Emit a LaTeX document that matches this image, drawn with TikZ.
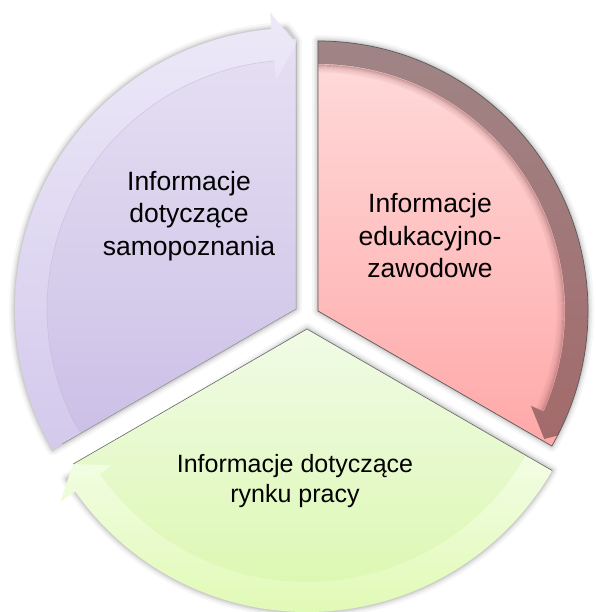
\documentclass[tikz,border=0pt]{standalone}
\usepackage{fontspec}
\setmainfont{Liberation Sans}
\usetikzlibrary{calc}
\definecolor{pTop}{HTML}{E6E0F3}
\definecolor{pBot}{HTML}{CBBFE6}
\definecolor{pbTop}{HTML}{EDE9F8}
\definecolor{pbBot}{HTML}{D3C9EC}
\definecolor{rTop}{HTML}{FFDCDC}
\definecolor{rBot}{HTML}{FFA8A8}
\definecolor{rbTop}{HTML}{A08586}
\definecolor{rbBot}{HTML}{A36A6B}
\definecolor{gTop}{HTML}{F0FBE6}
\definecolor{gBot}{HTML}{D9F7A8}
\definecolor{gbTop}{HTML}{F2FDE4}
\definecolor{gbBot}{HTML}{E1FAB6}
\tikzset{
  halo/.style={draw=black, line join=round, opacity=#1},
  label/.style={align=center, text=black},
}
\begin{document}
\begin{tikzpicture}[x=1pt,y=1pt]
\useasboundingbox (0,0) rectangle (595,-612);
\coordinate (P) at (296,-309);
\coordinate (R) at (318,-311);
\coordinate (G) at (307,-329);

% ---------- soft shadows ----------
\foreach \w/\o in {12/0.035, 8/0.045, 5/0.06, 2.5/0.07}{
  \draw[halo=\o, line width=\w pt, shift={(2,-3)}]
    (P) -- ($(P)+(210:281)$) arc[start angle=210, end angle=92, radius=281] -- ($(P)+(90:268)$) -- cycle;
  \draw[halo=\o, line width=\w pt, shift={(3,-3)}]
    (R) -- ($(R)+(90:270)$) arc[start angle=90, end angle=-30, radius=270] -- cycle;
  \draw[halo=\o, line width=\w pt, shift={(2,-3)}]
    (G) -- ($(G)+(-30:283)$) arc[start angle=-30, end angle=-148, radius=283] -- cycle;
}

% ---------- sectors ----------
\shade[top color=pTop, bottom color=pBot]
  (P) -- ($(P)+(210:270)$) arc[start angle=210, end angle=90, radius=270] -- cycle;
\shade[top color=rTop, bottom color=rBot]
  (R) -- ($(R)+(90:270)$) arc[start angle=90, end angle=-30, radius=270] -- cycle;
\shade[top color=gTop, bottom color=gBot]
  (G) -- ($(G)+(-30:270)$) arc[start angle=-30, end angle=-150, radius=270] -- cycle;

% ---------- circular arrows ----------
% purple arrow
\shade[top color=pbTop, bottom color=pbBot]
  ($(P)+(210:281)$) arc[start angle=210, end angle=95, radius=281]
  -- ($(P)+(95:298)$) -- ($(P)+(90:265)$) -- ($(P)+(95:230)$)
  -- ($(P)+(95:249)$) arc[start angle=95, end angle=210, radius=249] -- cycle;
\draw[color=pBot!80!gray, opacity=0.6, line width=0.5pt]
  ($(P)+(95:249)$) arc[start angle=95, end angle=208, radius=249];

% red arrow (dark band, clipped to the sector)
\begin{scope}
  \clip (R) -- ($(R)+(90:270)$) arc[start angle=90, end angle=-30, radius=270] -- cycle;
  \foreach \k/\o in {8/0.05, 7/0.08, 6/0.11, 5/0.15, 4/0.2, 3/0.28, 2/0.38, 1/0.5}{
    \draw[color=rbBot, opacity=\o, line width=1.2pt]
      ($(R)+(90:247-\k)$) arc[start angle=90, end angle=-24, radius=247-\k];
  }
  \shade[top color=rbTop, bottom color=rbBot]
    ($(R)+(90:272)$) arc[start angle=90, end angle=-24, radius=272]
    -- ($(R)+(-24:290)$) -- ($(R)+(-29.5:260)$) -- ($(R)+(-24:233)$)
    -- ($(R)+(-24:247)$) arc[start angle=-24, end angle=90, radius=247] -- cycle;
\end{scope}

% green arrow
\shade[top color=gbTop, bottom color=gbBot]
  ($(G)+(-30:283)$) arc[start angle=-30, end angle=-145, radius=283]
  -- ($(G)+(-145:301)$) -- ($(G)+(-150:270)$) -- ($(G)+(-145:238)$)
  -- ($(G)+(-145:253)$) arc[start angle=-145, end angle=-30, radius=253] -- cycle;

% ---------- outlines ----------
\draw[color=black!65, line width=0.7pt, line join=round]
  (R) -- ($(R)+(90:270)$) arc[start angle=90, end angle=-30, radius=270] -- cycle;
\draw[color=black!45, line width=0.5pt]
  ($(P)+(90:266)$) -- (P) -- ($(P)+(210:270)$);
\draw[color=black!60, line width=0.6pt]
  ($(G)+(-150:270)$) -- (G) -- ($(G)+(-30:283)$);

% ---------- labels ----------
\node[label, font=\fontsize{26.5}{32.5}\selectfont] (tP) at (189,-216)
  {Informacje\\dotyczące\\samopoznania};
\node[label, font=\fontsize{26.5}{32.5}\selectfont] (tR) at (430,-236)
  {Informacje\\edukacyjno-\\zawodowe};
\node[label, font=\fontsize{25}{30}\selectfont] (tG) at (295,-481)
  {Informacje dotyczące\\rynku pracy};
\end{tikzpicture}
\end{document}
